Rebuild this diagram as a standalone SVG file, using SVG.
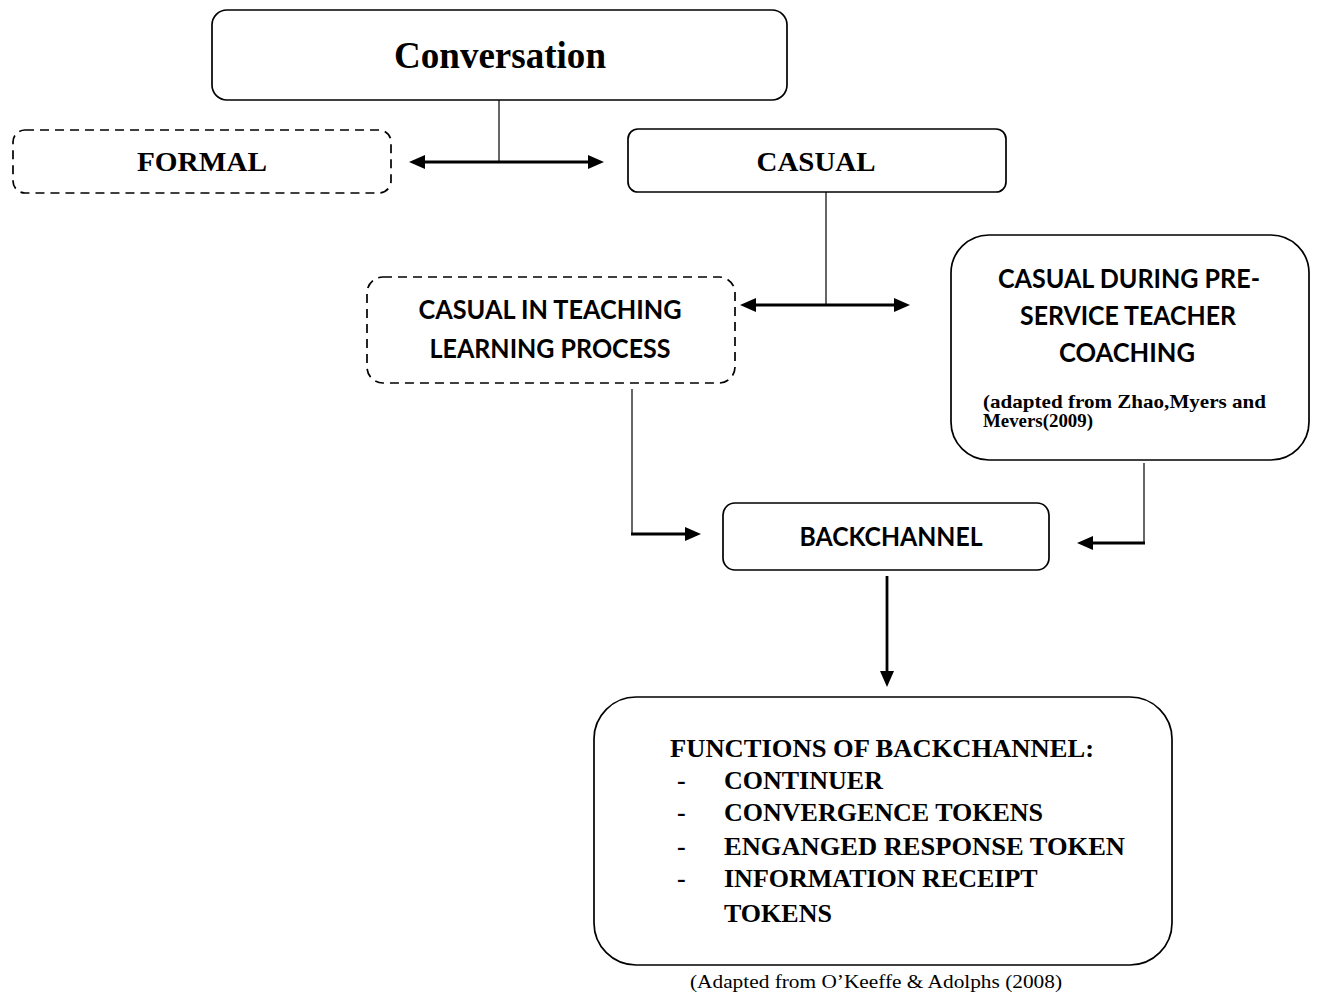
<svg xmlns="http://www.w3.org/2000/svg" width="1318" height="993" viewBox="0 0 1318 993">
<style>
.box{fill:#fff;stroke:#000;stroke-width:1.7}
.dash{fill:#fff;stroke:#000;stroke-width:1.7;stroke-dasharray:9 6}
.thin{fill:none;stroke:#000;stroke-width:1.2}
.thick{fill:none;stroke:#000;stroke-width:2.8}
.serif{font-family:"Liberation Serif","Times New Roman",serif;font-weight:bold;fill:#000}
.serifr{font-family:"Liberation Serif","Times New Roman",serif;font-weight:normal;fill:#000}
.sans{font-family:Lato,"Open Sans","Liberation Sans",sans-serif;font-weight:bold;fill:#000;font-size:26px}
.mid{text-anchor:middle}
</style>
<defs>
<marker id="ah" markerUnits="userSpaceOnUse" markerWidth="16" markerHeight="14" refX="5" refY="7" orient="auto-start-reverse" viewBox="0 0 16 14">
<path d="M0,0 L16,7 L0,14 z" fill="#000"/>
</marker>
</defs>

<g id="n-conversation">
<rect class="box" x="212" y="10" width="575" height="90" rx="15"/>
<text class="serif mid" x="500" y="68" font-size="38" textLength="212" lengthAdjust="spacingAndGlyphs">Conversation</text>
</g>

<g id="n-formal">
<rect class="dash" x="13" y="130" width="378" height="63" rx="12"/>
<text class="serif mid" x="202" y="171" font-size="28" textLength="130" lengthAdjust="spacingAndGlyphs">FORMAL</text>
</g>

<g id="n-casual">
<rect class="box" x="628" y="129" width="378" height="63" rx="10"/>
<text class="serif mid" x="816" y="171" font-size="28" textLength="119" lengthAdjust="spacingAndGlyphs">CASUAL</text>
</g>

<g id="n-teaching">
<rect class="dash" x="367" y="277" width="368" height="106" rx="16"/>
<text class="sans mid" x="550" y="319" textLength="263" lengthAdjust="spacingAndGlyphs">CASUAL IN TEACHING</text>
<text class="sans mid" x="550" y="358" textLength="241" lengthAdjust="spacingAndGlyphs">LEARNING PROCESS</text>
</g>

<g id="n-preservice">
<rect class="box" x="951" y="235" width="358" height="225" rx="38"/>
<text class="sans mid" x="1129" y="288" textLength="262" lengthAdjust="spacingAndGlyphs">CASUAL DURING PRE-</text>
<text class="sans mid" x="1128" y="325" textLength="216" lengthAdjust="spacingAndGlyphs">SERVICE TEACHER</text>
<text class="sans mid" x="1127" y="362" textLength="136" lengthAdjust="spacingAndGlyphs">COACHING</text>
<text class="serif" x="983" y="408" font-size="19" textLength="283" lengthAdjust="spacingAndGlyphs">(adapted from Zhao,Myers and</text>
<text class="serif" x="983" y="427" font-size="19" textLength="110" lengthAdjust="spacingAndGlyphs">Mevers(2009)</text>
</g>

<g id="n-backchannel">
<rect class="box" x="723" y="503" width="326" height="67" rx="12"/>
<text class="sans mid" x="891" y="546" textLength="183" lengthAdjust="spacingAndGlyphs">BACKCHANNEL</text>
</g>

<g id="n-functions">
<rect class="box" x="594" y="697" width="578" height="268" rx="42"/>
<text class="serif" x="670" y="757" font-size="26" textLength="424" lengthAdjust="spacingAndGlyphs">FUNCTIONS OF BACKCHANNEL:</text>
<text class="serif" x="677" y="789" font-size="26">-</text>
<text class="serif" x="724" y="789" font-size="26">CONTINUER</text>
<text class="serif" x="677" y="821" font-size="26">-</text>
<text class="serif" x="724" y="821" font-size="26">CONVERGENCE TOKENS</text>
<text class="serif" x="677" y="855" font-size="26">-</text>
<text class="serif" x="724" y="855" font-size="26" textLength="401" lengthAdjust="spacingAndGlyphs">ENGANGED RESPONSE TOKEN</text>
<text class="serif" x="677" y="887" font-size="26">-</text>
<text class="serif" x="724" y="887" font-size="26">INFORMATION RECEIPT</text>
<text class="serif" x="724" y="922" font-size="26">TOKENS</text>
</g>

<g id="caption">
<text class="serifr" x="690" y="988" font-size="19" textLength="372" lengthAdjust="spacingAndGlyphs">(Adapted from O’Keeffe &amp; Adolphs (2008)</text>
</g>

<g id="connectors">
<line class="thin" x1="499" y1="100" x2="499" y2="162"/>
<line class="thick" x1="420" y1="162" x2="593" y2="162" marker-start="url(#ah)" marker-end="url(#ah)"/>
<line class="thin" x1="826" y1="192" x2="826" y2="305"/>
<line class="thick" x1="751" y1="305" x2="899" y2="305" marker-start="url(#ah)" marker-end="url(#ah)"/>
<line class="thin" x1="632" y1="389" x2="632" y2="535"/>
<line class="thick" x1="631" y1="534" x2="690" y2="534" marker-end="url(#ah)"/>
<line class="thin" x1="1144" y1="463" x2="1144" y2="544"/>
<line class="thick" x1="1145" y1="543" x2="1088" y2="543" marker-end="url(#ah)"/>
<line class="thick" x1="887" y1="576" x2="887" y2="676" marker-end="url(#ah)"/>
</g>
</svg>
